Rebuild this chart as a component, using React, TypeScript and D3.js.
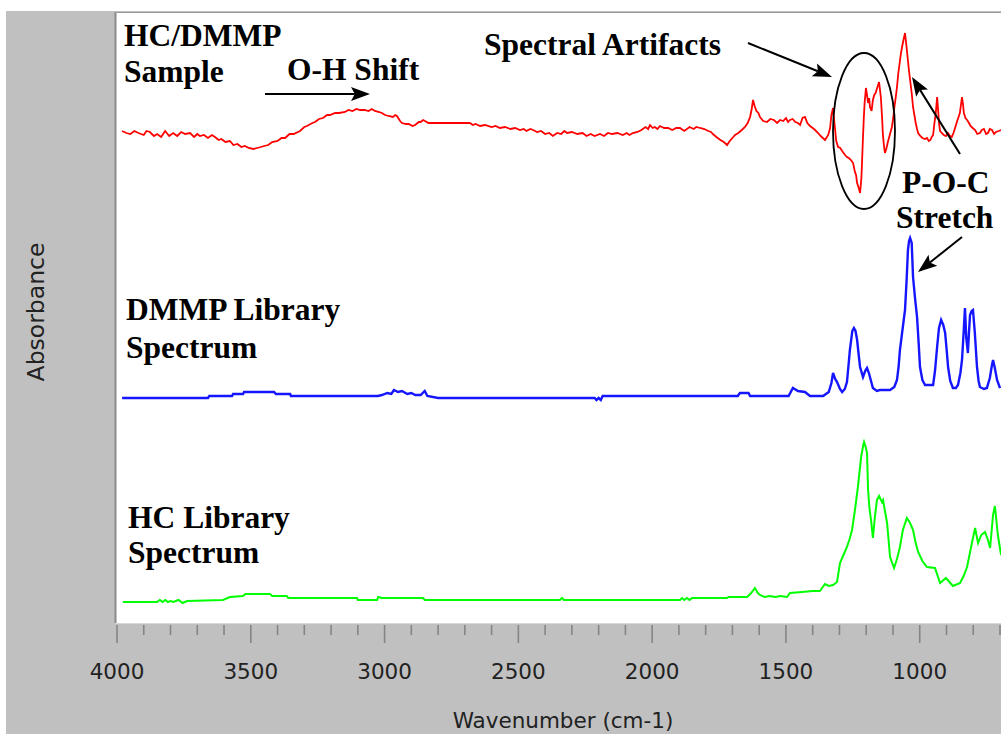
import React from "react";
import * as d3 from "d3";

// Wavenumber (cm-1), offset absorbance (arbitrary units, stacked traces)
const sampleSpectrum: [number, number][] = [
  [3981, 492], [3965, 490], [3950, 489], [3935, 492], [3920, 490], [3900, 488], [3890, 492], [3877, 491], [3862, 487], [3850, 489], [3835, 486], [3820, 492], [3805, 487], [3790, 490], [3775, 487], [3760, 491], [3745, 489], [3727, 490], [3712, 486], [3700, 489], [3690, 487], [3675, 488], [3660, 485], [3645, 488], [3634, 486], [3620, 483], [3610, 484], [3595, 481], [3578, 482], [3565, 478], [3550, 479], [3535, 476], [3522, 477], [3508, 475], [3490, 474], [3477, 475], [3462, 476], [3450, 477], [3435, 478], [3420, 481], [3400, 482], [3385, 485], [3372, 485], [3355, 489], [3340, 489], [3316, 492], [3300, 496], [3290, 497], [3270, 500], [3260, 501], [3245, 504], [3230, 505], [3215, 508], [3204, 508], [3185, 510], [3170, 510], [3148, 511], [3135, 513], [3120, 512], [3105, 514], [3092, 513], [3075, 513], [3060, 512], [3048, 514], [3036, 512], [3020, 511], [3010, 510], [2998, 508], [2985, 507], [2969, 506], [2960, 508], [2954, 507], [2942, 502], [2935, 500], [2920, 499], [2910, 499], [2895, 497], [2886, 498], [2872, 501], [2865, 501], [2856, 503], [2849, 502], [2836, 500], [2823, 500], [2793, 500], [2681, 500], [2670, 498], [2660, 499], [2643, 497], [2625, 498], [2600, 496], [2585, 497], [2569, 495], [2550, 496], [2530, 494], [2512, 495], [2494, 493], [2480, 494], [2470, 492], [2455, 494], [2445, 493], [2430, 491], [2415, 492], [2400, 489], [2385, 490], [2371, 487], [2355, 490], [2340, 489], [2328, 492], [2318, 490], [2300, 491], [2280, 489], [2260, 490], [2245, 487], [2230, 489], [2215, 487], [2195, 489], [2180, 487], [2165, 490], [2150, 489], [2130, 490], [2110, 488], [2095, 490], [2085, 488], [2072, 490], [2055, 491], [2040, 493], [2025, 496], [2015, 494], [2008, 498], [1998, 495], [1990, 496], [1980, 494], [1971, 497], [1955, 495], [1940, 495], [1925, 493], [1910, 495], [1896, 495], [1880, 492], [1860, 496], [1845, 494], [1835, 496], [1821, 495], [1805, 494], [1790, 492], [1780, 491], [1773, 489], [1760, 486], [1745, 483], [1732, 481], [1720, 478], [1710, 482], [1700, 485], [1690, 488], [1678, 490], [1665, 493], [1653, 496], [1643, 500], [1634, 506], [1628, 514], [1623, 523], [1616, 516], [1610, 512], [1603, 510], [1597, 506], [1585, 502], [1571, 501], [1558, 504], [1545, 503], [1533, 500], [1522, 503], [1510, 502], [1500, 505], [1492, 501], [1485, 503], [1475, 504], [1465, 501], [1455, 500], [1447, 498], [1438, 505], [1429, 506], [1420, 500], [1410, 497], [1400, 495], [1391, 493], [1380, 490], [1370, 487], [1362, 485], [1354, 483], [1342, 488], [1335, 495], [1330, 508], [1324, 515], [1318, 498], [1312, 482], [1305, 476], [1297, 475], [1290, 472], [1279, 468], [1272, 466], [1265, 465], [1257, 463], [1249, 460], [1243, 452], [1238, 448], [1234, 440], [1228, 435], [1223, 430], [1218, 445], [1215, 465], [1212, 486], [1209, 505], [1206, 520], [1201, 535], [1197, 528], [1193, 520], [1189, 525], [1186, 516], [1180, 512], [1175, 523], [1170, 528], [1165, 530], [1158, 536], [1152, 541], [1148, 532], [1145, 525], [1140, 502], [1138, 490], [1134, 478], [1130, 470], [1125, 474], [1120, 480], [1112, 488], [1104, 496], [1099, 505], [1095, 515], [1090, 525], [1085, 536], [1080, 550], [1075, 560], [1070, 570], [1066, 576], [1060, 584], [1055, 590], [1050, 578], [1045, 565], [1040, 552], [1036, 543], [1030, 530], [1025, 516], [1020, 508], [1015, 500], [1010, 494], [1006, 490], [998, 487], [990, 485], [980, 484], [973, 485], [966, 482], [960, 483], [955, 486], [950, 488], [945, 500], [940, 510], [935, 526], [931, 512], [928, 500], [924, 492], [918, 490], [910, 488], [902, 487], [894, 490], [887, 487], [880, 486], [874, 490], [868, 495], [860, 502], [850, 510], [846, 518], [842, 526], [838, 518], [835, 510], [829, 505], [823, 503], [816, 500], [810, 497], [802, 495], [793, 493], [785, 489], [775, 490], [768, 493], [760, 494], [752, 489], [745, 490], [738, 494], [730, 493], [722, 489], [715, 491], [705, 492], [696, 493],
];

const dmmpSpectrum: [number, number][] = [
  [3981, 225], [3660, 225], [3655, 227], [3570, 227], [3566, 229], [3529, 229], [3525, 231], [3413, 231], [3406, 229], [3353, 229], [3350, 227], [3025, 227], [3010, 228], [2990, 230], [2975, 229], [2965, 233], [2950, 231], [2935, 232], [2915, 229], [2900, 230], [2885, 228], [2865, 228], [2850, 232], [2840, 227], [2800, 225], [2215, 225], [2208, 223], [2200, 225], [2192, 223], [2185, 227], [1680, 227], [1672, 230], [1640, 230], [1634, 227], [1490, 227], [1474, 235], [1455, 232], [1429, 231], [1410, 227], [1361, 227], [1340, 231], [1330, 240], [1324, 250], [1316, 244], [1309, 241], [1298, 234], [1290, 231], [1280, 234], [1272, 241], [1266, 258], [1261, 273], [1252, 292], [1246, 295], [1240, 292], [1234, 283], [1228, 268], [1223, 256], [1212, 246], [1204, 252], [1197, 255], [1190, 250], [1186, 246], [1175, 235], [1160, 232], [1149, 233], [1111, 233], [1095, 236], [1085, 243], [1079, 256], [1074, 273], [1065, 292], [1055, 313], [1049, 343], [1044, 373], [1040, 382], [1036, 385], [1030, 380], [1025, 346], [1018, 326], [1010, 306], [1004, 280], [999, 256], [990, 243], [980, 238], [950, 238], [943, 252], [935, 276], [928, 295], [920, 303], [912, 298], [905, 290], [899, 272], [894, 256], [886, 242], [876, 235], [865, 235], [857, 238], [848, 250], [842, 263], [836, 290], [831, 315], [826, 285], [820, 270], [816, 290], [812, 308], [806, 312], [801, 313], [794, 290], [786, 256], [780, 242], [775, 236], [760, 234], [749, 235], [738, 245], [730, 258], [726, 263], [720, 256], [711, 243], [700, 235],
];

const hcSpectrum: [number, number][] = [
  [3978, 21], [3850, 21], [3840, 23], [3830, 21], [3820, 23], [3810, 21], [3800, 22], [3790, 21], [3770, 23], [3755, 20], [3738, 22], [3604, 23], [3578, 26], [3529, 27], [3520, 29], [3428, 29], [3420, 27], [3365, 27], [3360, 25], [3103, 25], [3100, 23], [3028, 23], [3024, 26], [3010, 25], [2856, 25], [2850, 23], [2345, 23], [2337, 25], [2330, 23], [1896, 23], [1888, 25], [1880, 23], [1870, 25], [1860, 23], [1851, 25], [1720, 25], [1715, 26], [1645, 26], [1630, 30], [1616, 35], [1605, 30], [1597, 28], [1580, 26], [1560, 27], [1540, 26], [1520, 27], [1496, 26], [1485, 30], [1440, 31], [1400, 32], [1373, 32], [1354, 39], [1340, 37], [1324, 38], [1309, 41], [1298, 60], [1285, 68], [1272, 76], [1262, 84], [1253, 93], [1242, 113], [1231, 136], [1219, 166], [1211, 178], [1208, 181], [1202, 176], [1197, 170], [1193, 133], [1188, 115], [1182, 103], [1175, 85], [1168, 105], [1160, 123], [1152, 127], [1141, 121], [1137, 123], [1130, 112], [1122, 100], [1116, 82], [1111, 66], [1096, 55], [1085, 64], [1074, 76], [1063, 93], [1048, 105], [1036, 100], [1025, 93], [1015, 80], [1006, 71], [990, 62], [973, 56], [943, 55], [924, 40], [902, 45], [876, 37], [849, 40], [836, 47], [823, 56], [805, 80], [793, 95], [782, 80], [770, 88], [756, 91], [745, 83], [737, 75], [726, 108], [719, 117], [708, 88], [696, 68],
];

const majorTicks = [4000, 3500, 3000, 2500, 2000, 1500, 1000];
const minorTicks = d3.range(4000, 699, -100);

const W = 1001;
const H = 734;
const plot = { left: 116, top: 13, right: 1001, bottom: 623 };

const serif = "'Liberation Serif', 'Times New Roman', serif";
const sans = "'DejaVu Sans', Verdana, sans-serif";

function Arrow({ x1, y1, x2, y2, len = 19, half = 7 }: { x1: number; y1: number; x2: number; y2: number; len?: number; half?: number }) {
  const dx = x2 - x1;
  const dy = y2 - y1;
  const d = Math.hypot(dx, dy);
  const ux = dx / d;
  const uy = dy / d;
  const px = -uy;
  const py = ux;
  const bx = x2 - ux * len;
  const by = y2 - uy * len;
  const nx = x2 - ux * len * 0.8;
  const ny = y2 - uy * len * 0.8;
  const pts = [
    [x2, y2],
    [bx + px * half, by + py * half],
    [nx, ny],
    [bx - px * half, by - py * half],
  ];
  return (
    <g>
      <line x1={x1} y1={y1} x2={nx} y2={ny} stroke="#000" strokeWidth={2} />
      <polygon points={pts.map((p) => p.join(",")).join(" ")} fill="#000" />
    </g>
  );
}

export default function App() {
  const x = d3.scaleLinear().domain([4000, 700]).range([117, 1000]);
  const y = d3.scaleLinear().domain([0, 611]).range([623, 12]);
  const line = d3
    .line<[number, number]>()
    .x((d) => x(d[0]))
    .y((d) => y(d[1]));

  const textStyle = { fontFamily: serif, fontWeight: 700, fontSize: 31.5 } as const;

  return (
    <svg width={W} height={H} style={{ position: "absolute", left: 0, top: 0 }}>
      <rect x={0} y={0} width={W} height={H} fill="#fff" />
      <rect x={6} y={11} width={W - 6} height={H - 11} fill="#c0c0c0" />
      <rect x={plot.left} y={plot.top} width={plot.right - plot.left} height={plot.bottom - plot.top} fill="#fff" />
      <line x1={plot.left - 0.5} y1={plot.top - 1} x2={plot.left - 0.5} y2={plot.bottom} stroke="#8a8a8a" strokeWidth={2} />
      <line x1={plot.left - 1} y1={plot.top - 0.5} x2={plot.right} y2={plot.top - 0.5} stroke="#9a9a9a" strokeWidth={1} />
      <line x1={plot.left - 1} y1={plot.bottom + 0.5} x2={plot.right} y2={plot.bottom + 0.5} stroke="#d8d8d8" strokeWidth={1} />

      <defs>
        <clipPath id="plotclip">
          <rect x={plot.left} y={plot.top} width={plot.right - plot.left} height={plot.bottom - plot.top} />
        </clipPath>
      </defs>

      <g clipPath="url(#plotclip)">
        <path d={line(hcSpectrum) || ""} fill="none" stroke="#00ff00" strokeWidth={2} />
        <path d={line(dmmpSpectrum) || ""} fill="none" stroke="#1515ff" strokeWidth={2.4} />
        <path d={line(sampleSpectrum) || ""} fill="none" stroke="#ff0000" strokeWidth={1.8} />
      </g>

      {/* axis ticks */}
      {minorTicks.map((t) => (
        <line key={"m" + t} x1={x(t)} x2={x(t)} y1={625} y2={majorTicks.includes(t) ? 643 : 635} stroke="#858585" strokeWidth={1.6} />
      ))}
      {majorTicks.map((t) => (
        <text key={"l" + t} x={x(t)} y={679} textAnchor="middle" fontFamily={sans} fontSize={21.5} fill="#222">
          {t}
        </text>
      ))}
      <text x={563} y={728} textAnchor="middle" fontFamily={sans} fontSize={21.5} fill="#222">
        Wavenumber (cm-1)
      </text>
      <text transform="translate(44,312) rotate(-90)" textAnchor="middle" fontFamily={sans} fontSize={23.5} fill="#222">
        Absorbance
      </text>

      {/* annotations */}
      <text x={124} y={46} {...textStyle}>HC/DMMP</text>
      <text x={124} y={82} {...textStyle}>Sample</text>
      <text x={287} y={80} {...textStyle}>O-H Shift</text>
      <Arrow x1={265} y1={94} x2={370} y2={94} />
      <text x={484} y={55} {...textStyle}>Spectral Artifacts</text>
      <Arrow x1={748} y1={43} x2={832} y2={77} />
      <ellipse cx={864} cy={131} rx={31} ry={78} fill="none" stroke="#000" strokeWidth={1.8} />
      <text x={902} y={193} {...textStyle}>P-O-C</text>
      <text x={896} y={228} {...textStyle}>Stretch</text>
      <Arrow x1={960} y1={154} x2={912} y2={77} />
      <Arrow x1={962} y1={237} x2={918} y2={272} />
      <text x={126} y={320} {...textStyle}>DMMP Library</text>
      <text x={126} y={358} {...textStyle}>Spectrum</text>
      <text x={128} y={528} {...textStyle}>HC Library</text>
      <text x={128} y={563} {...textStyle}>Spectrum</text>
    </svg>
  );
}
